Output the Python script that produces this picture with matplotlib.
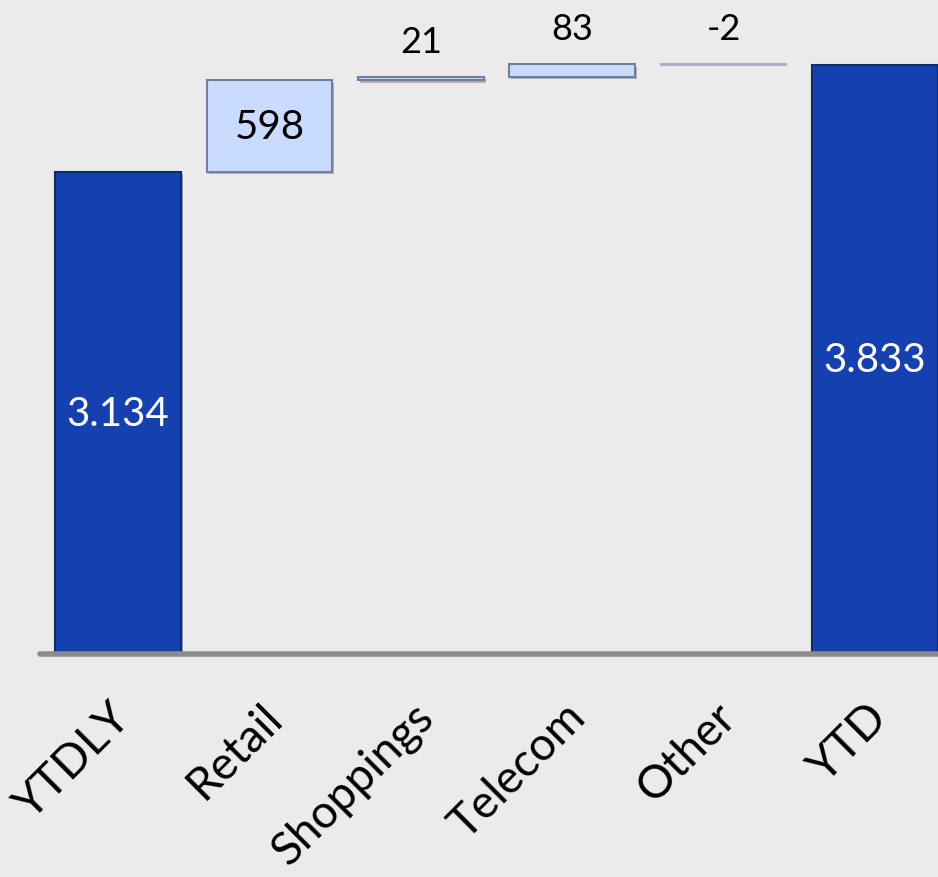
import matplotlib.pyplot as plt
import matplotlib.transforms as mtransforms
import matplotlib.patheffects as pe

categories = ["YTDLY", "Retail", "Shoppings", "Telecom", "Other", "YTD"]
values = [3134, 598, 21, 83, -2, 3833]
labels = ["3.134", "598", "21", "83", "-2", "3.833"]
is_total = [True, False, False, False, False, True]

BG = "#ebebeb"
DARK = "#1541b0"
LIGHT = "#c9dbff"

fig = plt.figure(figsize=(9.38, 8.78), dpi=100, facecolor=BG)
ax = fig.add_axes([40 / 938, 223 / 878, 898 / 938, 655 / 878])
ax.set_facecolor(BG)

# waterfall bottoms
bottoms = []
run = 0
for v, tot in zip(values, is_total):
    if tot:
        bottoms.append(0)
        run = v
    else:
        bottoms.append(run if v >= 0 else run + v)
        run += v
heights = [abs(v) for v in values]
x = list(range(len(categories)))

shadow = [pe.SimplePatchShadow(offset=(1.5, -1.5), alpha=0.35), pe.Normal()]
for i in x:
    if is_total[i]:
        ax.bar(i, heights[i], bottom=bottoms[i], width=0.83, color=DARK,
               edgecolor="#0d2a75", linewidth=1.5, zorder=2, path_effects=shadow)
    else:
        ax.bar(i, heights[i], bottom=bottoms[i], width=0.83, color=LIGHT,
               edgecolor="#6f7f9c", linewidth=1.5, zorder=2,
               alpha=1.0 if values[i] > 0 else 0.5,
               path_effects=shadow if values[i] > 0 else None)

# labels
for i in x:
    if is_total[i]:
        ax.text(i, heights[i] / 2, labels[i], ha="center", va="center",
                fontsize=29, color="white", family="Lato", zorder=3)
    elif heights[i] > 300:
        ax.text(i, bottoms[i] + heights[i] / 2, labels[i], ha="center", va="center",
                fontsize=29, color="black", family="Lato", zorder=3)
    else:
        top = bottoms[i] + heights[i]
        ax.annotate(labels[i], (i, top), xytext=(0, 26), textcoords="offset points",
                    ha="center", va="center", fontsize=26, color="black", family="Lato")

ax.axhline(0, color="#8c8c8c", lw=4, solid_capstyle="round", zorder=3, clip_on=False)

ax.set_xlim(-0.515, 5.416)
ax.set_ylim(0, 4262)
ax.set_yticks([])
ax.set_xticks(x)
ax.set_xticklabels(categories, rotation=45, ha="right", va="center",
                   rotation_mode="anchor", fontsize=33, family="Lato")
ax.tick_params(axis="x", length=0, pad=40)
shift = mtransforms.ScaledTranslation(6 / 100, 0, fig.dpi_scale_trans)
for lab in ax.get_xticklabels():
    lab.set_transform(lab.get_transform() + shift)
for s in ax.spines.values():
    s.set_visible(False)

fig.savefig("out.png", dpi=100, facecolor=BG)
